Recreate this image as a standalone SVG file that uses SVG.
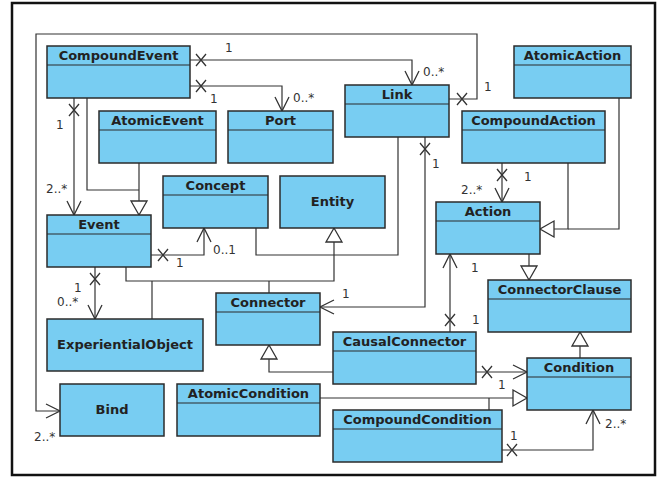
<svg xmlns="http://www.w3.org/2000/svg" xmlns:xlink="http://www.w3.org/1999/xlink" width="661" height="478" viewBox="0 0 661 478">
<style>
.box{fill:#78CDF2;stroke:#2b2b2b;stroke-width:1.5}
.hl{stroke:#2b2b2b;stroke-width:1.2}
.t{font-family:"DejaVu Sans",sans-serif;font-weight:bold;font-size:13px;fill:#222;text-anchor:middle}
.lbl{font-family:"DejaVu Sans",sans-serif;font-size:12px;fill:#333}
.c{fill:none;stroke:#333;stroke-width:1.2}
.x{fill:none;stroke:#333;stroke-width:1.3}
</style>
<defs>
<marker id="arr" markerUnits="userSpaceOnUse" markerWidth="20" markerHeight="20" refX="0" refY="0" orient="auto" overflow="visible">
<path d="M-14,-7 L0,0 L-14,7" fill="none" stroke="#333" stroke-width="1.3"/>
</marker>
<marker id="tri" markerUnits="userSpaceOnUse" markerWidth="20" markerHeight="20" refX="0" refY="0" orient="auto" overflow="visible">
<path d="M-14,-8 L0,0 L-14,8 Z" fill="#fff" stroke="#333" stroke-width="1.3"/>
</marker>
<path id="xm" class="x" d="M-5,-6 L5,6 M-5,6 L5,-6"/>
</defs>
<rect x="0" y="0" width="661" height="478" fill="#fff"/>
<rect x="12" y="3" width="643" height="472" fill="#fff" stroke="#111" stroke-width="2.5"/>

<g id="connectors">
<path class="c" d="M449,99 H477 V34 H36 V411 H60" marker-end="url(#arr)"/>
<path class="c" d="M190,60 H412 V85" marker-end="url(#arr)"/>
<path class="c" d="M190,86 H282 V111" marker-end="url(#arr)"/>
<path class="c" d="M74,98 V215" marker-end="url(#arr)"/>
<path class="c" d="M87,98 V190 H139"/>
<path class="c" d="M139,163 V215" marker-end="url(#tri)"/>
<path class="c" d="M151,255 H204 V228" marker-end="url(#arr)"/>
<path class="c" d="M95,267 V319" marker-end="url(#arr)"/>
<path class="c" d="M126,267 V281 H334 V228" marker-end="url(#tri)"/>
<path class="c" d="M152,319 V281"/>
<path class="c" d="M269,293 V281"/>
<path class="c" d="M256,228 V255 H398 V137"/>
<path class="c" d="M425,137 V307 H320" marker-end="url(#arr)"/>
<path class="c" d="M502,163 V202" marker-end="url(#arr)"/>
<path class="c" d="M568,163 V229 H540" marker-end="url(#tri)"/>
<path class="c" d="M619,98 V229 H568"/>
<path class="c" d="M529,254 V280" marker-end="url(#tri)"/>
<path class="c" d="M450,332 V254" marker-end="url(#arr)"/>
<path class="c" d="M333,372 H269 V345" marker-end="url(#tri)"/>
<path class="c" d="M476,372 H527" marker-end="url(#arr)"/>
<path class="c" d="M580,358 V332" marker-end="url(#tri)"/>
<path class="c" d="M320,398 H527" marker-end="url(#tri)"/>
<path class="c" d="M489,410 V398"/>
<path class="c" d="M502,450 H593 V410" marker-end="url(#arr)"/>
<use href="#xm" x="462" y="99"/>
<use href="#xm" x="201" y="60"/>
<use href="#xm" x="201" y="86"/>
<use href="#xm" x="74" y="110"/>
<use href="#xm" x="163" y="255"/>
<use href="#xm" x="95" y="279"/>
<use href="#xm" x="425" y="149"/>
<use href="#xm" x="502" y="175"/>
<use href="#xm" x="450" y="320"/>
<use href="#xm" x="487" y="372"/>
<use href="#xm" x="512" y="450"/>
<text class="lbl" x="225" y="52">1</text>
<text class="lbl" x="423" y="76">0..*</text>
<text class="lbl" x="484" y="91">1</text>
<text class="lbl" x="210" y="103">1</text>
<text class="lbl" x="293" y="102">0..*</text>
<text class="lbl" x="56" y="129">1</text>
<text class="lbl" x="46" y="193">2..*</text>
<text class="lbl" x="176" y="267">1</text>
<text class="lbl" x="213" y="254">0..1</text>
<text class="lbl" x="74" y="292">1</text>
<text class="lbl" x="57" y="306">0..*</text>
<text class="lbl" x="432" y="168">1</text>
<text class="lbl" x="342" y="298">1</text>
<text class="lbl" x="524" y="181">1</text>
<text class="lbl" x="461" y="194">2..*</text>
<text class="lbl" x="471" y="272">1</text>
<text class="lbl" x="472" y="324">1</text>
<text class="lbl" x="498" y="389">1</text>
<text class="lbl" x="510" y="440">1</text>
<text class="lbl" x="605" y="428">2..*</text>
<text class="lbl" x="34" y="441">2..*</text>
</g>

<g id="CompoundEvent"><rect class="box" x="47" y="46" width="143" height="52"/><line class="hl" x1="47" y1="65" x2="190" y2="65"/><text class="t" x="118.5" y="60">CompoundEvent</text></g>
<g id="AtomicEvent"><rect class="box" x="99" y="111" width="117" height="52"/><line class="hl" x1="99" y1="130" x2="216" y2="130"/><text class="t" x="157.5" y="125">AtomicEvent</text></g>
<g id="Port"><rect class="box" x="228" y="111" width="105" height="52"/><line class="hl" x1="228" y1="130" x2="333" y2="130"/><text class="t" x="280.5" y="125">Port</text></g>
<g id="Link"><rect class="box" x="345" y="85" width="104" height="52"/><line class="hl" x1="345" y1="104" x2="449" y2="104"/><text class="t" x="397" y="99">Link</text></g>
<g id="AtomicAction"><rect class="box" x="514" y="46" width="117" height="52"/><line class="hl" x1="514" y1="65" x2="631" y2="65"/><text class="t" x="572.5" y="60">AtomicAction</text></g>
<g id="CompoundAction"><rect class="box" x="462" y="111" width="143" height="52"/><line class="hl" x1="462" y1="130" x2="605" y2="130"/><text class="t" x="533.5" y="125">CompoundAction</text></g>
<g id="Concept"><rect class="box" x="163" y="176" width="105" height="52"/><line class="hl" x1="163" y1="195" x2="268" y2="195"/><text class="t" x="215.5" y="190">Concept</text></g>
<g id="Entity"><rect class="box" x="280" y="176" width="105" height="52"/><text class="t" x="332.5" y="206">Entity</text></g>
<g id="Event"><rect class="box" x="47" y="215" width="104" height="52"/><line class="hl" x1="47" y1="234" x2="151" y2="234"/><text class="t" x="99" y="229">Event</text></g>
<g id="Action"><rect class="box" x="436" y="202" width="104" height="52"/><line class="hl" x1="436" y1="221" x2="540" y2="221"/><text class="t" x="488" y="216">Action</text></g>
<g id="ConnectorClause"><rect class="box" x="488" y="280" width="143" height="52"/><line class="hl" x1="488" y1="299" x2="631" y2="299"/><text class="t" x="559.5" y="294">ConnectorClause</text></g>
<g id="Connector"><rect class="box" x="216" y="293" width="104" height="52"/><line class="hl" x1="216" y1="312" x2="320" y2="312"/><text class="t" x="268" y="307">Connector</text></g>
<g id="ExperientialObject"><rect class="box" x="47" y="319" width="156" height="52"/><text class="t" x="125" y="349">ExperientialObject</text></g>
<g id="CausalConnector"><rect class="box" x="333" y="332" width="143" height="52"/><line class="hl" x1="333" y1="351" x2="476" y2="351"/><text class="t" x="404.5" y="346">CausalConnector</text></g>
<g id="Condition"><rect class="box" x="527" y="358" width="104" height="52"/><line class="hl" x1="527" y1="377" x2="631" y2="377"/><text class="t" x="579" y="372">Condition</text></g>
<g id="Bind"><rect class="box" x="60" y="384" width="104" height="52"/><text class="t" x="112" y="414">Bind</text></g>
<g id="AtomicCondition"><rect class="box" x="177" y="384" width="143" height="52"/><line class="hl" x1="177" y1="403" x2="320" y2="403"/><text class="t" x="248.5" y="398">AtomicCondition</text></g>
<g id="CompoundCondition"><rect class="box" x="333" y="410" width="169" height="52"/><line class="hl" x1="333" y1="429" x2="502" y2="429"/><text class="t" x="417.5" y="424">CompoundCondition</text></g>
</svg>
